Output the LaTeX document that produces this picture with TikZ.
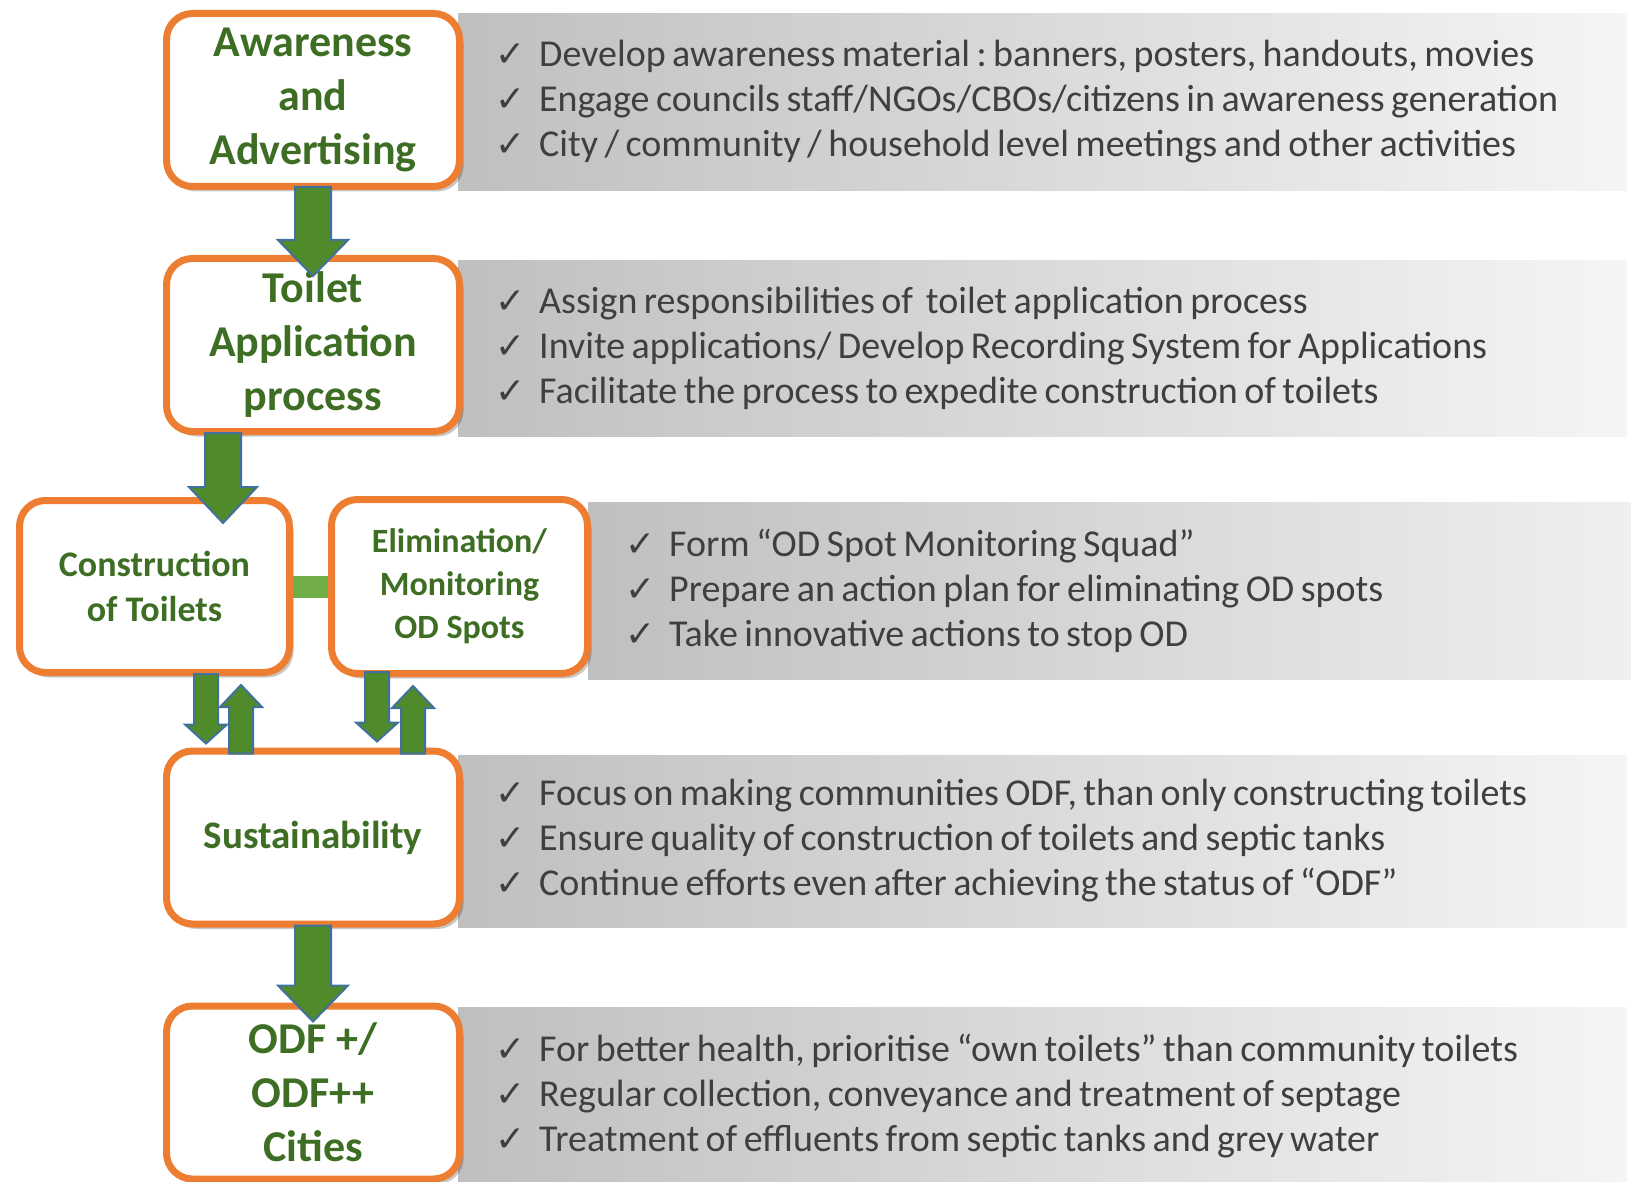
\documentclass[tikz,border=0pt]{standalone}
\usepackage{fontspec}
\setmainfont{Carlito}
\newfontfamily\tickfont{DejaVu Sans}
\usetikzlibrary{positioning,calc,shadows}
\definecolor{stageorange}{HTML}{ED7D31}
\definecolor{stagegreen}{HTML}{3E6E24}
\definecolor{arrowgreen}{HTML}{4F8A2B}
\definecolor{arrowblue}{HTML}{41719C}
\definecolor{linkgreen}{HTML}{70AD47}
\definecolor{notegray}{HTML}{3F3F3F}

\newcommand{\tick}{\makebox[44pt][l]{\tickfont\fontsize{36}{45}\selectfont ✓}}
\newcommand{\tightspaces}{\frenchspacing\spaceskip=0.17em\relax}

% block arrow, vertical: from, to, half shaft, half head, head length
\newcommand{\flowarrow}[5]{%
  \filldraw[flowarrow] let \p1=#1, \p2=#2, \n1={ifthenelse(\y2>\y1,1,-1)} in
    (\x1-#3,\y1) -- (\x1-#3,{\y2-\n1*#5}) -- (\x1-#4,{\y2-\n1*#5}) -- (\x1,\y2)
    -- (\x1+#4,{\y2-\n1*#5}) -- (\x1+#3,{\y2-\n1*#5}) -- (\x1+#3,\y1) -- cycle;}

\begin{document}
\begin{tikzpicture}
  [x=1pt, y=-1pt,
   stage/.style={
     rectangle,
     draw=stageorange,
     line width=7pt,
     rounded corners=26pt,
     fill=white,
     drop shadow={shadow xshift=4pt, shadow yshift=-5pt, fill=black, opacity=0.22},
     minimum width=293pt,
     minimum height=173pt,
     align=center,
     text=stagegreen,
     font=\bfseries\fontsize{44}{54}\selectfont
     },
   notes/.style={
     rectangle,
     anchor=west,
     left color=gray!50,
     right color=gray!8,
     minimum height=177pt,
     text width=1095pt,
     inner xsep=37pt,
     inner ysep=0pt,
     align=left,
     text=notegray,
     font=\fontsize{38}{45}\selectfont,
     execute at begin node=\tightspaces
     },
   flowarrow/.style={fill=arrowgreen, draw=arrowblue, line width=2pt},
   link/.style={draw=linkgreen, line width=22pt}
  ]

  \useasboundingbox (0,0) rectangle (1631,1182);

  \node [notes] (awarenessnotes) at (458,102)
    {\tick Develop awareness material : banners, posters, handouts, movies\\
     \tick Engage councils staff/NGOs/CBOs/citizens in awareness generation\\
     \tick City / community / household level meetings and other activities};
  \node [notes, minimum height=175pt] (toiletnotes) at (458,348.5)
    {\tick Assign responsibilities of\ \ toilet application process\\
     \tick Invite applications/ Develop Recording System for Applications\\
     \tick Facilitate the process to expedite construction of toilets};
  \node [notes] (eliminationnotes) at (588,590.5)
    {\tick Form “OD Spot Monitoring Squad”\\
     \tick Prepare an action plan for eliminating OD spots\\
     \tick Take innovative actions to stop OD};
  \node [notes, minimum height=172pt] (sustainnotes) at (458,841)
    {\tick Focus on making communities ODF, than only constructing toilets\\
     \tick Ensure quality of construction of toilets and septic tanks\\
     \tick Continue efforts even after achieving the status of “ODF”};
  \node [notes] (odfnotes) at (458,1096)
    {\tick For better health, prioritise “own toilets” than community toilets\\
     \tick Regular collection, conveyance and treatment of septage\\
     \tick Treatment of effluents from septic tanks and grey water};

  \node [stage] (awareness) at (313,100) {Awareness\\and\\Advertising};
  \node [stage, below=65pt of awareness] (toilet) {Toilet\\Application\\process};
  \node [
    stage,
    minimum width=270pt,
    minimum height=172pt,
    font=\bfseries\fontsize{36}{45}\selectfont
    ]
    (construction) at (154.5,586.5) {Construction\\of Toilets};
  \node [
    stage,
    minimum width=256pt,
    minimum height=174pt,
    right=35pt of construction,
    font=\bfseries\fontsize{34}{43}\selectfont
    ]
    (elimination) {Elimination/\\Monitoring\\OD Spots};
  \node [stage, font=\bfseries\fontsize{39}{47}\selectfont] (sustain) at (313,837.5) {Sustainability};
  \node [stage, below=75pt of sustain] (odf) {ODF +/\\ODF++\\Cities};

  \draw[link] (construction.east) -- (elimination.west);

  \flowarrow{($(awareness.south)+(0,-3)$)}{($(toilet.north)+(0,21)$)}{18pt}{35pt}{36pt}
  \flowarrow{($(toilet.south)+(-90,-2)$)}{($(construction.north)+(68.5,26)$)}{18pt}{34pt}{36pt}
  \flowarrow{($(sustain.south)+(0,-2)$)}{($(odf.north)+(0,19)$)}{18pt}{35pt}{36pt}

  \flowarrow{($(construction.south)+(51.5,-2)$)}{($(sustain.north)+(-107,-4)$)}{12pt}{21pt}{19pt}
  \flowarrow{($(sustain.north)+(-72,6)$)}{($(construction.south)+(86.5,9)$)}{12pt}{21pt}{22pt}
  \flowarrow{($(elimination.south)+(-82.5,-5)$)}{($(sustain.north)+(64,-6)$)}{12pt}{21pt}{19pt}
  \flowarrow{($(sustain.north)+(100,6)$)}{($(elimination.south)+(-46.5,9)$)}{12pt}{21pt}{22pt}
\end{tikzpicture}
\end{document}
